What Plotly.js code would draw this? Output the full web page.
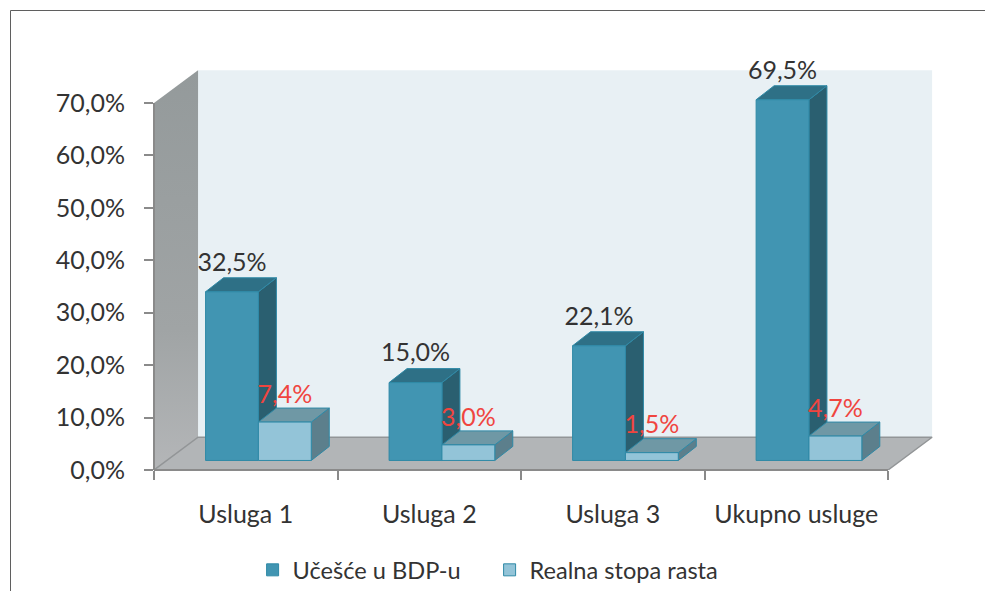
<!DOCTYPE html>
<html>
<head>
<meta charset="utf-8">
<script src="https://cdn.plot.ly/plotly-3.0.1.min.js"></script>
<style>html,body{margin:0;padding:0;background:#fff;overflow:hidden}</style>
</head>
<body>
<div id="chart" style="width:985px;height:591px"></div>
<script>
const categories = ['Usluga 1', 'Usluga 2', 'Usluga 3', 'Ukupno usluge'];
const seriesNames = ['Učešće u BDP-u', 'Realna stopa rasta'];
const ucesce = [32.5, 15.0, 22.1, 69.5];
const stopa = [7.4, 3.0, 1.5, 4.7];
const yTicks = [0, 10, 20, 30, 40, 50, 60, 70];
const yMax = 70;

// oblique projection settings, in axis units
const BASE = 1.82, SCALE = 0.99;       // floor position of the bars' front plane, perspective shrink
const BAR_W = 0.288, BAR_X0 = 0.281;   // bar width and first-bar start inside a category
const BAR_DX = 0.098, BAR_DY = 2.67;   // bar depth
const WALL_DX = 0.24, WALL_DY = 6.25;  // chart depth
const X_TOP = 4.283, Y_TOP = 80.11;    // room around the drawing for the 3D depth
const FONT = 'Lato, "Open Sans", sans-serif';

const C = {
  dark:{front:'#4195B2', top:'#2E7086', side:'#2A5F70'},
  light:{front:'#93C4D8', top:'#6F98A5', side:'#5C7F8C'},
  edge:'#2F89A6', text:'#333333', red:'#F0453F', axis:'#8A8A8A'
};
const pct = v => v.toFixed(1).replace('.',',')+'%';

function poly(xs, ys, fill, extra){
  return Object.assign({x:xs, y:ys, type:'scatter', mode:'lines', fill:'toself', fillcolor:fill,
    line:{width:0}, hoverinfo:'skip', showlegend:false, cliponaxis:false, zorder:0}, extra||{});
}
function faces(values, startOffset, col, z){
  const out = [];
  values.forEach((v,i)=>{
    const l = i+startOffset, r = l+BAR_W, t = BASE+SCALE*v, b = BASE;
    const ln = {width:1, color:C.edge};
    out.push(poly([r,r+BAR_DX,r+BAR_DX,r,r],[b,b+BAR_DY,t+BAR_DY,t,b],col.side,{line:ln,zorder:z}));
    out.push(poly([l,l+BAR_DX,r+BAR_DX,r,l],[t,t+BAR_DY,t+BAR_DY,t,t],col.top,{line:ln,zorder:z}));
  });
  return out;
}
function front(values, startOffset, col, name, z){
  return {type:'bar', name:name, x:values.map((v,i)=>i+startOffset+BAR_W/2), y:values.map(v=>SCALE*v),
    base:values.map(()=>BASE), width:BAR_W, marker:{color:col.front, line:{color:C.edge, width:1}},
    cliponaxis:false, hoverinfo:'skip', zorder:z};
}
function labels(values, startOffset, color, gap){
  return {type:'scatter', mode:'text', x:values.map((v,i)=>i+startOffset+BAR_W/2),
    y:values.map(v=>BASE+SCALE*v+BAR_DY+gap),
    text:values.map(pct), textposition:'middle center',
    textfont:{family:FONT,size:25,color:color}, cliponaxis:false, showlegend:false, hoverinfo:'skip', zorder:9};
}

const n = categories.length;
const data = [
  front(ucesce, BAR_X0, C.dark, seriesNames[0], 2),
  front(stopa, BAR_X0+BAR_W, C.light, seriesNames[1], 4),
  // back wall
  poly([WALL_DX,n+WALL_DX,n+WALL_DX,WALL_DX,WALL_DX],[WALL_DY,WALL_DY,yMax+WALL_DY,yMax+WALL_DY,WALL_DY],'#E8F0F4'),
  // side wall
  poly([0,WALL_DX,WALL_DX,0,0],[0,WALL_DY,yMax+WALL_DY,yMax,0],'#959B9C',
    {fillgradient:{type:'vertical',colorscale:[[0,'#B4B6B8'],[0.35,'#A0A4A5'],[1,'#949A9B']]}}),
  // floor
  poly([0,WALL_DX,n+WALL_DX,n,0],[0,WALL_DY,WALL_DY,0,0],'#B2B5B7',{line:{width:1.5,color:'#929597'}}),
  ...faces(ucesce, BAR_X0, C.dark, 1),
  ...faces(stopa, BAR_X0+BAR_W, C.light, 3),
  labels(ucesce, BAR_X0, C.text, 2.55),
  labels(stopa, BAR_X0+BAR_W, C.red, 2.2)
];

const axisLine = {color:C.axis, width:2};
const layout = {
  width:985, height:591, margin:{l:154,r:45,t:50,b:121,pad:0,autoexpand:false},
  paper_bgcolor:'#fff', plot_bgcolor:'rgba(0,0,0,0)', barmode:'overlay',
  font:{family:FONT,color:C.text}, showlegend:true,
  xaxis:{range:[0,X_TOP], tickmode:'array', tickvals:categories.map((c,i)=>i+0.5), ticktext:categories,
    ticks:'', ticklabelstandoff:27, tickfont:{family:FONT,size:25,color:C.text},
    showgrid:false, zeroline:false, showline:false,
    minor:{tickmode:'array', tickvals:categories.map((c,i)=>i).concat(n), ticks:'outside', ticklen:9, tickwidth:2, tickcolor:C.axis, showgrid:false}},
  yaxis:{range:[0,Y_TOP], tickmode:'array', tickvals:yTicks, ticktext:yTicks.map(pct),
    ticks:'outside', ticklen:9, tickwidth:2, tickcolor:C.axis, ticklabelstandoff:14, tickfont:{family:FONT,size:25,color:C.text},
    showgrid:false, zeroline:false, showline:false},
  legend:{orientation:'h', x:(252.6-154)/786, y:(470-548)/420, xanchor:'left', yanchor:'top',
    font:{family:FONT,size:23.6,color:C.text}, entrywidth:192, entrywidthmode:'pixels',
    bgcolor:'rgba(0,0,0,0)', itemclick:false, traceorder:'normal'},
  shapes:[
    {type:'line', xref:'paper', yref:'y', x0:0, x1:0, y0:0, y1:yMax, line:axisLine, layer:'above'},
    {type:'line', xref:'x', yref:'paper', x0:0, x1:n, y0:0, y1:0, line:axisLine, layer:'above'},
    {type:'path', xref:'paper', yref:'paper', layer:'above',
      path:`M ${(10.5-154)/786} ${(470-600)/420} L ${(10.5-154)/786} ${(470-10.5)/420} L ${(1000-154)/786} ${(470-10.5)/420}`,
      line:{color:'#5F5F5F',width:1}}
  ]
};
Plotly.newPlot('chart', data, layout, {displayModeBar:false, staticPlot:true});
</script>
</body>
</html>
